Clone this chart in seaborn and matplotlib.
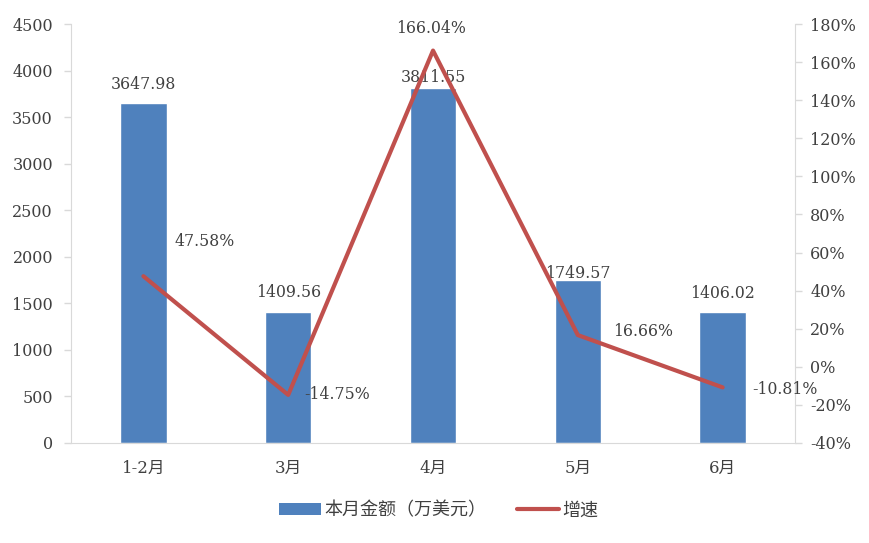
import matplotlib
matplotlib.use("Agg")
import matplotlib.pyplot as plt
import seaborn as sns
import pandas as pd
from matplotlib.patches import Patch
from matplotlib.lines import Line2D
from matplotlib.ticker import FuncFormatter

sns.set_style("white")
plt.rcParams['font.family'] = ['DejaVu Serif', 'Noto Sans CJK SC']

months = ['1-2月', '3月', '4月', '5月', '6月']
amount = [3647.98, 1409.56, 3811.55, 1749.57, 1406.02]
growth = [47.58, -14.75, 166.04, 16.66, -10.81]

bar_color = '#4F81BD'
line_color = '#C0504D'
text_color = '#404040'
axis_color = '#D9D9D9'

df = pd.DataFrame({'month': months, 'amount': amount, 'growth': growth})

fig = plt.figure(figsize=(8.69, 5.43), dpi=100)
ax = fig.add_axes([0.0817, 0.1842, 0.8332, 0.7716])

sns.barplot(data=df, x='month', y='amount', color=bar_color, width=0.32,
            saturation=1, ax=ax)
ax.set_ylim(0, 4500)
ax.set_yticks(range(0, 4501, 500))
ax.set_xlim(-0.5, 4.5)
ax.set_xlabel('')
ax.set_ylabel('')

# bar value labels (pixel offsets above bar top)
bar_off = [19, 19, 11, 7, 19]
for i, v in enumerate(amount):
    ax.annotate(f'{v:.2f}', (i, v), xytext=(0, bar_off[i]), textcoords='offset pixels',
                ha='center', va='center', fontsize=11.3, color=text_color)

ax2 = ax.twinx()
sns.lineplot(x=list(range(len(months))), y=growth, color=line_color, linewidth=3,
             ax=ax2)
ax2.set_ylim(-40, 180)
ax2.set_yticks(range(-40, 181, 20))
ax2.yaxis.set_major_formatter(FuncFormatter(lambda v, p: f'{v:.0f}%'))

line_off = [(61, 35), (49, 0), (-2, 22), (65, 4), (62, -2)]
for i, v in enumerate(growth):
    ax2.annotate(f'{v:.2f}%', (i, v), xytext=line_off[i], textcoords='offset pixels',
                 ha='center', va='center', fontsize=11.3, color=text_color)

for a in (ax, ax2):
    for s in a.spines.values():
        s.set_visible(False)
    a.tick_params(colors=text_color, labelsize=11.5, length=5, width=1)
    a.tick_params(axis='y', color=axis_color)
ax.spines['left'].set_visible(True)
ax.spines['left'].set_color(axis_color)
ax.spines['bottom'].set_visible(True)
ax.spines['bottom'].set_color(axis_color)
ax2.spines['right'].set_visible(True)
ax2.spines['right'].set_color(axis_color)
ax.tick_params(axis='x', length=0, pad=12, labelsize=12)
ax.tick_params(axis='y', pad=8)
ax2.tick_params(axis='y', pad=6)

handles = [Patch(facecolor=bar_color, edgecolor='none'),
           Line2D([0], [0], color=line_color, linewidth=3)]
fig.legend(handles, ['本月金额（万美元）', '增速'], loc='center',
           bbox_to_anchor=(0.505, 0.060), ncol=2, frameon=False,
           fontsize=13, labelcolor=text_color, handlelength=2.3,
           handleheight=0.6, columnspacing=1.7, handletextpad=0.2)

fig.savefig('out.png', dpi=100)
